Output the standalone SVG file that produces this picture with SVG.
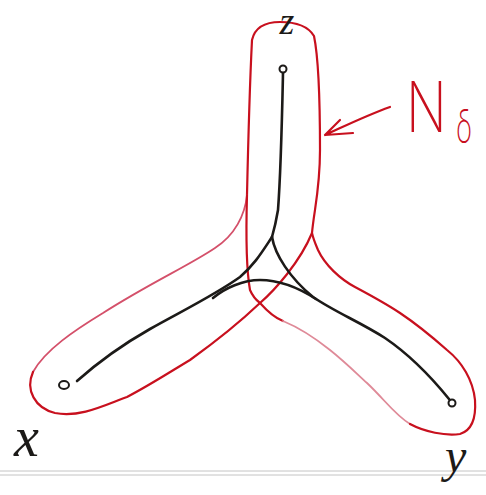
<svg xmlns="http://www.w3.org/2000/svg" width="486" height="495" viewBox="0 0 486 495">
<style>
.red{fill:none;stroke:#c8101e;stroke-width:2.2;stroke-linecap:round;stroke-linejoin:round}
.pink{fill:none;stroke:#d4506a;stroke-width:1.8;stroke-linecap:round;stroke-linejoin:round}
.pale{fill:none;stroke:#df8a98;stroke-width:1.8;stroke-linecap:round;stroke-linejoin:round}
.edge{fill:none;stroke:#1c1a18;stroke-width:2.6;stroke-linecap:round;stroke-linejoin:round}
.pt{fill:#fff;stroke:#1c1a18;stroke-width:2}
.lbl{font-family:"Liberation Serif","DejaVu Serif",serif;font-style:italic;fill:#1c1a18}
.rlbl{font-family:Inter,"Open Sans","Liberation Sans",sans-serif;font-weight:200;fill:#c8101e}
.paper{stroke:#c4c4c4;stroke-width:1}
</style>
<rect width="486" height="495" fill="#fff"/>
<g id="paper-lines">
<line class="paper" x1="0" y1="471" x2="486" y2="471"/>
<line class="paper" x1="0" y1="475" x2="486" y2="475" stroke="#d6d6d6"/>
</g>
<g id="neighbourhood">
<path class="red" d="M247,195 C248,150 250,80 252,40 C255,27 265,22 280,22 C295,22 308,26 314,36 C319,60 320,100 320,150 C320,190 314,210 312,233"/>
<path class="pink" d="M247,195 C245,215 235,235 215,248 C190,265 150,283 103,313 C75,330 45,350 33,372"/>
<path class="red" d="M33,372 C25,390 35,408 55,413 C80,418 105,405 127,397 C150,385 170,372 190,360 C215,342 240,322 260,303 C275,290 300,262 312,233"/>
<path class="red" d="M247,195 C246,230 246,268 250,290 C253,297 256,300 260,303 C268,312 275,318 283,321"/>
<path class="pale" d="M283,321 C300,328 315,338 330,350 C345,362 355,372 367,383 C385,400 395,415 410,424"/>
<path class="red" d="M410,424 C425,432 445,436 460,434 C473,430 476,415 475,400 C473,380 462,362 447,350 C430,335 415,323 400,313 C385,303 370,295 355,287 C340,279 325,265 318,250 C315,243 313,238 312,233"/>
</g>
<g id="connectors">
<path class="edge" d="M283,73 C282,120 281,170 278,210 C276,222 274,230 272,237"/>
<path class="edge" d="M272,237 C262,252 255,264 240,277 C215,295 180,312 150,329 C120,346 95,365 77,381"/>
<path class="edge" d="M272,237 C275,255 290,278 313,297 C335,312 360,322 385,338 C410,355 432,378 449,399"/>
<path class="edge" d="M213,298 C225,288 243,280 260,280 C282,280 302,290 316,299" stroke-width="2.2"/>
</g>
<g id="node-z">
<circle class="pt" cx="283" cy="69" r="3.5"/>
<text class="lbl" x="287" y="34" font-size="38" text-anchor="middle">z</text>
</g>
<g id="node-x">
<ellipse class="pt" cx="64" cy="385" rx="5" ry="4"/>
<text class="lbl" x="14" y="456" font-size="56">x</text>
</g>
<g id="node-y">
<circle class="pt" cx="452" cy="403" r="3.5"/>
<text class="lbl" x="445" y="472" font-size="48">y</text>
</g>
<g id="label-N">
<path class="red" d="M390,107 C365,116 345,126 325,135 M325,135 L353,133 M325,135 L340,120"/>
<text class="rlbl" transform="translate(406,132) scale(0.76,1)" font-size="70">N</text>
<text class="rlbl" transform="translate(456,143) scale(0.6,1)" font-size="46">δ</text>
</g>
</svg>
